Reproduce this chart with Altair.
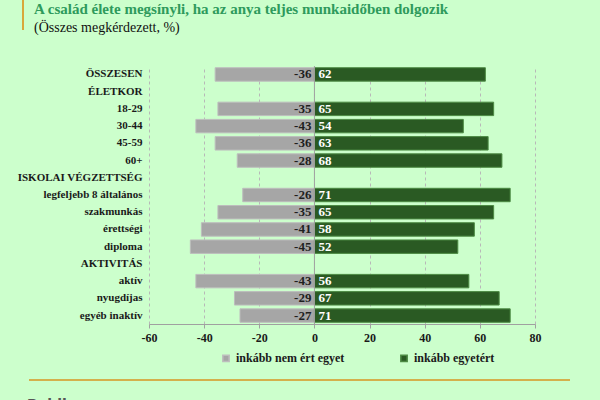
import altair as alt
import pandas as pd

# Survey rows (headers carry no values)
categories = ["ÖSSZESEN", "ÉLETKOR", "18-29", "30-44", "45-59", "60+",
              "ISKOLAI VÉGZETTSÉG", "legfeljebb 8 általános", "szakmunkás",
              "érettségi", "diploma", "AKTIVITÁS", "aktív", "nyugdíjas",
              "egyéb inaktív"]
disagree = [-36, None, -35, -43, -36, -28, None, -26, -35, -41, -45, None, -43, -29, -27]
agree = [62, None, 65, 54, 63, 68, None, 71, 65, 58, 52, None, 56, 67, 71]
series = ["inkább nem ért egyet", "inkább egyetért"]
x_ticks = [-60, -40, -20, 0, 20, 40, 60, 80]

rows = []
for cat, d, a in zip(categories, disagree, agree):
    if d is not None:
        rows.append({"cat": cat, "series": series[0], "value": d})
    if a is not None:
        rows.append({"cat": cat, "series": series[1], "value": a})
df = pd.DataFrame(rows)

FONT = "Liberation Serif"
GRAY = "#A6A6A6"
GREEN = "#2A5A23"
BG = "#CCFFCC"

W, H = 386, 258
LEFT, TOP = 149, 66

x_scale = alt.Scale(domain=[-60, 80], nice=False)
y_enc = alt.Y("cat:N", sort=categories,
              scale=alt.Scale(domain=categories, paddingInner=0.22, paddingOuter=0.1),
              axis=alt.Axis(title=None, domain=False, ticks=False, labelPadding=7,
                            labelFont=FONT, labelFontSize=11, labelFontWeight="bold",
                            labelColor="#1a1a1a", labelLimit=200))

base = alt.Chart(df).transform_calculate(label="'' + datum.value")

bars = base.mark_bar(strokeWidth=1).encode(
    x=alt.X("value:Q", scale=x_scale,
            axis=alt.Axis(title=None, values=x_ticks, labelExpr="'' + datum.value",
                          grid=True, labelFlush=False,
                          gridDash=[3, 3], gridColor="#B8B8B8", domainColor="#A0A0A0",
                          tickColor="#A0A0A0", tickSize=4, labelPadding=4,
                          labelFont=FONT, labelFontSize=12, labelFontWeight="bold",
                          labelColor="#1a1a1a")),
    x2=alt.datum(0),
    y=y_enc,
    color=alt.Color("series:N", scale=alt.Scale(domain=series, range=[GRAY, GREEN]),
                    legend=alt.Legend(title=None, orient="none", direction="horizontal",
                                      legendX=71, legendY=286, columnPadding=52,
                                      symbolType="square", symbolSize=40,
                                      labelFont=FONT, labelFontSize=12,
                                      labelFontWeight="bold", labelColor="#1a1a1a")),
    stroke=alt.Stroke("series:N", scale=alt.Scale(domain=series, range=["#BDBDBD", "#4C8A43"]),
                      legend=None),
)

zero_rule = alt.Chart(pd.DataFrame({"z": [0]})).mark_rule(color="#A0A0A0", strokeWidth=1).encode(
    x=alt.X("z:Q", scale=x_scale)
)

neg_labels = base.transform_filter(alt.datum.value < 0).mark_text(
    align="right", dx=-3, font=FONT, fontSize=13, fontWeight="bold", color="#1f1f1f"
).encode(x=alt.datum(0), y=alt.Y("cat:N", sort=categories), text="label:N")

pos_labels = base.transform_filter(alt.datum.value > 0).mark_text(
    align="left", dx=4, font=FONT, fontSize=13, fontWeight="bold", color="white"
).encode(x=alt.datum(0), y=alt.Y("cat:N", sort=categories), text="label:N")

one = pd.DataFrame({"k": [0]})

title = alt.Chart(one).mark_text(
    align="left", baseline="middle", font=FONT, fontSize=15, fontWeight="bold", color="#2E9A5C"
).encode(x=alt.value(34 - LEFT), y=alt.value(9 - TOP),
         text=alt.value("A család élete megsínyli, ha az anya teljes munkaidőben dolgozik"))

subtitle = alt.Chart(one).mark_text(
    align="left", baseline="middle", font=FONT, fontSize=14, color="#111111"
).encode(x=alt.value(34 - LEFT), y=alt.value(28 - TOP),
         text=alt.value("(Összes megkérdezett, %)"))

accent = alt.Chart(one).mark_rule(color="#D8A83A", strokeWidth=2).encode(
    x=alt.value(23 - LEFT), y=alt.value(0 - TOP), y2=alt.value(30 - TOP))

footer_line = alt.Chart(one).mark_rule(color="#D4B04C", strokeWidth=2).encode(
    x=alt.value(29 - LEFT), x2=alt.value(570 - LEFT), y=alt.value(380 - TOP))

logo = alt.Chart(one).mark_text(
    align="left", baseline="alphabetic", font="DejaVu Sans", fontSize=14, fontWeight="bold",
    color="#555555"
).encode(x=alt.value(27 - LEFT), y=alt.value(409 - TOP), text=alt.value("Publicus"))

chart = alt.layer(
    bars, zero_rule, neg_labels, pos_labels, title, subtitle, accent, footer_line, logo
).properties(
    width=W, height=H,
    autosize=alt.AutoSizeParams(type="none"),
    padding={"left": LEFT, "top": TOP, "right": 600 - LEFT - W, "bottom": 400 - TOP - H},
    background=BG,
).configure_view(stroke=None)

chart.save("out.html", embed_options={"renderer": "svg", "actions": False})
